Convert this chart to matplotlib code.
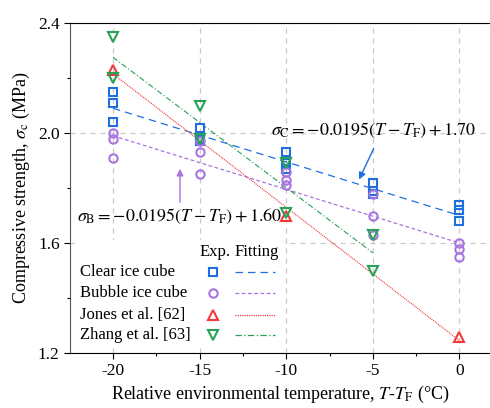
import numpy as np
import matplotlib
matplotlib.use("Agg")
import matplotlib.pyplot as plt
from matplotlib.lines import Line2D
from matplotlib.patches import Rectangle

plt.rcParams["font.family"] = ["Liberation Serif", "DejaVu Serif"]
plt.rcParams["mathtext.fontset"] = "stix"

# relative temperature T - T_F (°C) and measured strength (MPa)
clear_x = [-20, -20, -20, -15, -15, -15, -10, -10, -10, -5, -5, -5, 0, 0, 0]
clear_y = [2.15, 2.11, 2.04, 2.02, 1.98, 1.97, 1.93, 1.89, 1.87, 1.82, 1.79, 1.78, 1.74, 1.72, 1.68]

bubble_x = [-20, -20, -20, -15, -15, -15, -10, -10, -10, -5, -5, -5, 0, 0, 0]
bubble_y = [2.00, 1.98, 1.91, 1.97, 1.93, 1.85, 1.86, 1.83, 1.81, 1.78, 1.70, 1.63, 1.60, 1.58, 1.55]

jones_x = [-20, -10, 0]
jones_y = [2.23, 1.70, 1.26]

zhang_x = [-20, -20, -15, -15, -10, -10, -5, -5]
zhang_y = [2.35, 2.20, 2.10, 1.98, 1.89, 1.71, 1.63, 1.50]

fit_slope = -0.0195
clear_icpt = 1.70
bubble_icpt = 1.60

labels = ["Clear ice cube", "Bubble ice cube", "Jones et al. [62]", "Zhang et al. [63]"]

C_CLEAR = "#1f6fdf"
C_BUBBLE = "#a874e0"
C_JONES = "#f23a3a"
C_ZHANG = "#27a155"

LS_CLEAR = (0, (6, 4))
LS_BUBBLE = (0, (3, 2))
LS_JONES = (0, (1, 0.8))
LS_ZHANG = (0, (5, 2, 1, 2))

fig = plt.figure(figsize=(4.9, 4.08), dpi=100)
ax = fig.add_axes([0.1429, 0.1348, 0.857, 0.8088])

def open_marker(marker, color, size):
    return dict(linestyle="none", marker=marker, markerfacecolor="none", markeredgecolor=color,
                markersize=size, markeredgewidth=1.5)

ax.plot(clear_x, clear_y, zorder=4, **open_marker("s", C_CLEAR, 5.5))
ax.plot(bubble_x, bubble_y, zorder=4, **open_marker("o", C_BUBBLE, 6))
ax.plot(jones_x, jones_y, zorder=4, **open_marker("^", C_JONES, 7))
ax.plot(zhang_x, zhang_y, zorder=4, **open_marker("v", C_ZHANG, 7))

# fitted lines
xf = np.array([-20, 0])
ax.plot(xf, fit_slope * xf + clear_icpt, color=C_CLEAR, lw=0.9, ls=LS_CLEAR, zorder=3)
ax.plot(xf, fit_slope * xf + bubble_icpt, color=C_BUBBLE, lw=0.9, ls=LS_BUBBLE, zorder=3)
pj = np.polyfit(jones_x, jones_y, 1)
xj = np.array([min(jones_x), max(jones_x)])
ax.plot(xj, np.polyval(pj, xj), color=C_JONES, lw=0.8, ls=LS_JONES, zorder=3)
pz = np.polyfit(zhang_x, zhang_y, 1)
xz = np.array([min(zhang_x), max(zhang_x)])
ax.plot(xz, np.polyval(pz, xz), color=C_ZHANG, lw=0.8, ls=LS_ZHANG, zorder=3)

ax.set_xlim(-22.48, 1.76)
ax.set_ylim(1.2, 2.4)
ax.set_xticks([-20, -15, -10, -5, 0])
ax.set_xticks([-17.5, -12.5, -7.5, -2.5], minor=True)
ax.set_yticks([1.2, 1.6, 2.0, 2.4])
ax.set_yticks([1.4, 1.8, 2.2], minor=True)
ax.yaxis.set_major_formatter(plt.FormatStrFormatter("%.1f"))
ax.set_xticklabels(["-20", "-15", "-10", "-5", "0"])
ax.tick_params(labelsize=12.5, direction="out", length=4, width=0.8)
ax.tick_params(which="minor", length=2.5, width=0.8)
ax.spines["right"].set_visible(False)
ax.spines["left"].set_color("#555555")
ax.grid(True, which="major", color="#c8c8c8", ls=(0, (4, 4)), lw=0.9)
ax.set_axisbelow(True)

ax.set_xlabel(r"Relative environmental temperature, $T$-$T_{\mathrm{F}}$ (°C)", fontsize=13, labelpad=3)
ax.set_ylabel(r"Compressive strength, $\sigma_{\mathrm{c}}$ (MPa)", fontsize=13, labelpad=4)

# equation labels with arrows
ax.text(-10.85, 2.01, r"$\sigma_{\mathrm{C}} = -0.0195\left(T - T_{\mathrm{F}}\right) + 1.70$",
        fontsize=13, va="center", ha="left", zorder=5)
ax.annotate("", xy=(-5.86, 1.822), xytext=(-4.88, 1.953),
            arrowprops=dict(arrowstyle="-|>", color=C_CLEAR, lw=1.0, mutation_scale=10))
ax.text(-22.1, 1.695, r"$\sigma_{\mathrm{B}} = -0.0195\left(T - T_{\mathrm{F}}\right) + 1.60$",
        fontsize=13, va="center", ha="left", zorder=5)
ax.annotate("", xy=(-16.13, 1.88), xytext=(-16.13, 1.738),
            arrowprops=dict(arrowstyle="-|>", color=C_BUBBLE, lw=1.0, mutation_scale=10))

# legend: label | experimental marker | fitting line, with column headers
tr = ax.transAxes
ax.add_patch(Rectangle((0.012, 0.024), 0.50, 0.318, transform=tr, facecolor="white",
                       edgecolor="none", zorder=5))
ax.text(0.345, 0.306, "Exp.", transform=tr, fontsize=12, ha="center", va="center", zorder=6)
ax.text(0.445, 0.306, "Fitting", transform=tr, fontsize=12, ha="center", va="center", zorder=6)
rows_y = [0.2455, 0.1818, 0.115, 0.0545]
styles = [("s", C_CLEAR, 5.5, LS_CLEAR), ("o", C_BUBBLE, 6, LS_BUBBLE),
          ("^", C_JONES, 7, LS_JONES), ("v", C_ZHANG, 7, LS_ZHANG)]
for yy, lab, (m, c, s, ls) in zip(rows_y, labels, styles):
    ax.text(0.0238, yy, lab, transform=tr, fontsize=12, ha="left", va="center", zorder=6)
    ax.add_line(Line2D([0.3405], [yy], transform=tr, zorder=6, **open_marker(m, c, s)))
    ax.add_line(Line2D([0.393, 0.488], [yy, yy], transform=tr, color=c, lw=0.9, ls=ls, zorder=6))

fig.savefig("out.png", dpi=100)
